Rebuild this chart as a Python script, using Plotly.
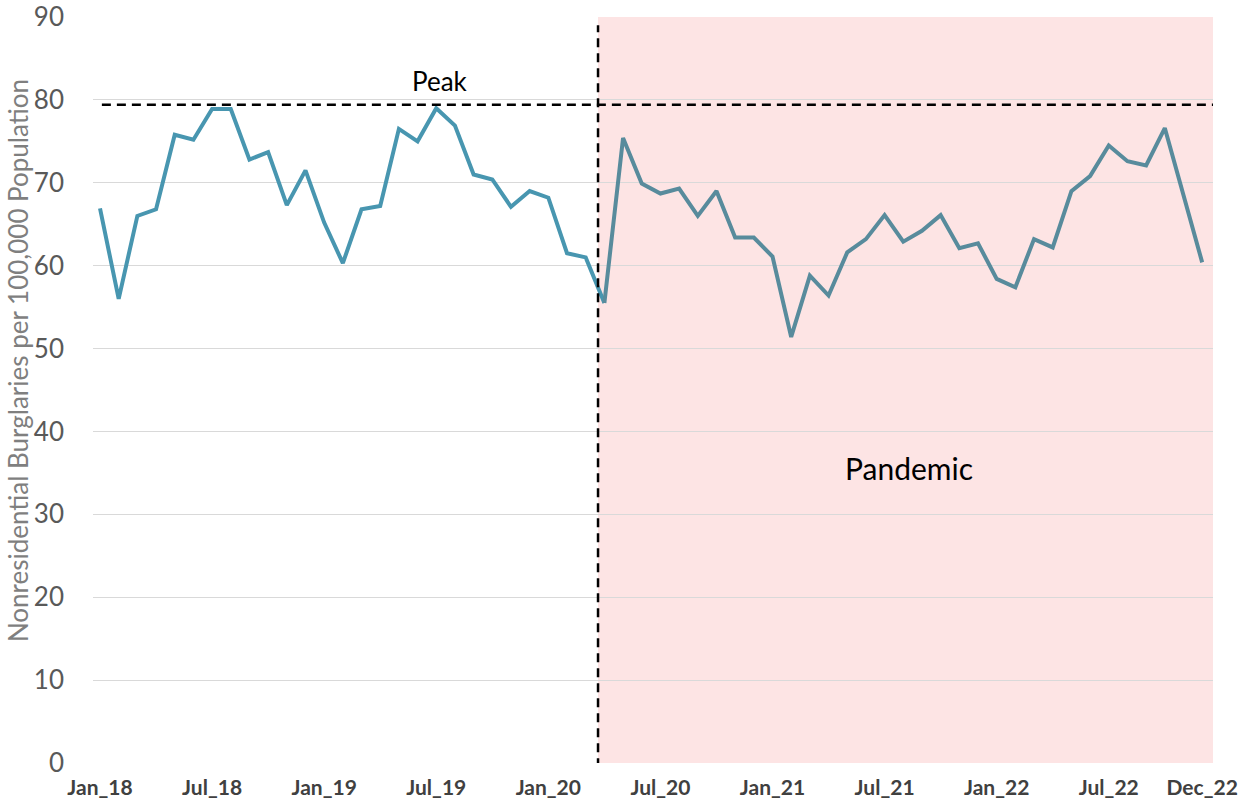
import plotly.graph_objects as go

# monthly values Jan 2018 .. Dec 2022 (index 0..59)
months = [f"{m}_{y}" for y in ("18", "19", "20", "21", "22")
          for m in ("Jan", "Feb", "Mar", "Apr", "May", "Jun",
                    "Jul", "Aug", "Sep", "Oct", "Nov", "Dec")]
burglary_rate = [
    66.9, 56.0, 66.0, 66.8, 75.8, 75.2, 78.9, 78.9, 72.8, 73.7, 67.3, 71.5,
    65.2, 60.3, 66.8, 67.2, 76.5, 75.0, 79.0, 76.9, 71.0, 70.4, 67.1, 69.0,
    68.2, 61.5, 61.0, 55.5, 75.4, 69.9, 68.7, 69.3, 66.0, 69.0, 63.4, 63.4,
    61.1, 51.4, 58.8, 56.4, 61.6, 63.2, 66.1, 62.9, 64.2, 66.1, 62.1, 62.7,
    58.4, 57.4, 63.2, 62.2, 69.0, 70.8, 74.5, 72.6, 72.1, 76.6, 68.5, 60.4,
]
peak_value = 79.4
tick_idx = [0, 6, 12, 18, 24, 30, 36, 42, 48, 54, 59]
tick_text = ["Jan_18", "Jul_18", "Jan_19", "Jul_19", "Jan_20", "Jul_20",
             "Jan_21", "Jul_21", "Jan_22", "Jul_22", "Dec_22"]

x = list(range(len(months)))
split = 27  # first pandemic month (Apr_20)
pandemic_start = 26.66
x_min, x_max = -0.375, 59.58

fig = go.Figure()

fig.add_shape(type="rect", xref="x", yref="y", x0=pandemic_start, x1=x_max,
              y0=0, y1=90, fillcolor="#fde4e4", line_width=0, layer="below")

fig.add_trace(go.Scatter(x=x[:split + 1], y=burglary_rate[:split + 1],
                         mode="lines", line=dict(color="#4896b0", width=4),
                         hoverinfo="skip", showlegend=False))
fig.add_trace(go.Scatter(x=x[split:], y=burglary_rate[split:],
                         mode="lines", line=dict(color="#588b9c", width=4),
                         hoverinfo="skip", showlegend=False))

fig.add_shape(type="line", xref="x", yref="y", x0=0.1, x1=x_max,
              y0=peak_value, y1=peak_value,
              line=dict(color="black", width=2.5, dash="9px,6px"))
fig.add_shape(type="line", xref="x", yref="y", x0=pandemic_start,
              x1=pandemic_start, y0=-0.5, y1=89,
              line=dict(color="black", width=2.5, dash="9px,6px"))

fig.add_annotation(x=18.2, y=peak_value, text="Peak", showarrow=False,
                   yanchor="bottom", yshift=6,
                   font=dict(family="Lato", size=26, color="black"))
fig.add_annotation(x=43.3, y=35.6, text="Pandemic", showarrow=False,
                   font=dict(family="Lato", size=30, color="black"))
fig.add_annotation(xref="paper", yref="paper", x=-0.067, y=0.54,
                   xanchor="center", yanchor="middle",
                   text="Nonresidential Burglaries per 100,000 Population",
                   textangle=-90, showarrow=False,
                   font=dict(family="Lato", size=26, color="#7f7f7f"))

fig.update_xaxes(range=[x_min, x_max], tickvals=tick_idx, ticktext=tick_text,
                 showgrid=False, zeroline=False, showline=False,
                 automargin=False,
                 tickfont=dict(family="Lato", size=21, color="#404040",
                               weight="bold"),
                 ticks="", ticklabelstandoff=10)
fig.update_yaxes(range=[0, 90], dtick=10, showgrid=True,
                 gridcolor="#d9d9d9", gridwidth=1, zeroline=False,
                 showline=False, ticks="", automargin=False,
                 tickfont=dict(family="Lato", size=26, color="#595959"),
                 ticklabelstandoff=28)

fig.update_layout(width=1241, height=810,
                  margin=dict(l=93, r=28, t=17, b=47, autoexpand=False),
                  plot_bgcolor="white", paper_bgcolor="white",
                  font=dict(family="Lato"))

# drop the default page margin so the figure sits in the corner
fig.write_html("out.html", config={"displayModeBar": False},
               post_script="document.body.style.margin='0';")
